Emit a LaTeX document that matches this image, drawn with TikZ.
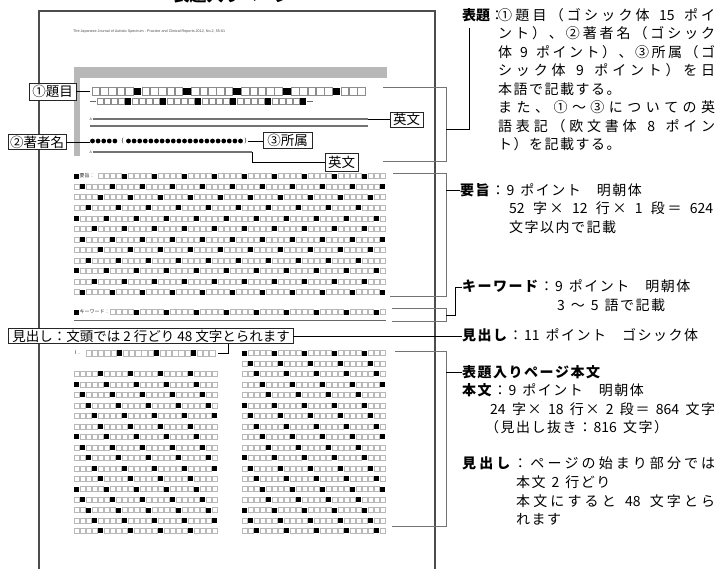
\documentclass[tikz,border=0pt]{standalone}
\usepackage{fontspec}
\setmainfont{Liberation Sans}
\newfontfamily\jp{Noto Sans CJK JP}
\newfontfamily\ls{Liberation Sans}
\makeatletter
\newcommand\spread[2]{\def\jq@glue{#1}\jq@first#2\jq@end}
\def\jq@first#1{#1\jq@next}
\def\jq@next#1{\def\jq@tmp{#1}\ifx\jq@tmp\jq@endm\else\jq@glue#1\expandafter\jq@next\fi}
\def\jq@endm{\jq@end}
\makeatother
\newcommand\jG{\hskip1.5pt\relax}
\newcommand\jJ{\hskip0pt plus1fill\relax}
\newcommand\jS{\hskip3pt\relax}
\newcommand\jW{\hskip13pt\relax}
\begin{document}
\begin{tikzpicture}[x=1pt,y=-1pt,
  pg/.style={draw=black!70, line width=1.1pt},
  lbl/.style={draw=black!85, fill=white, line width=0.8pt, inner sep=1pt, font=\jp\fontsize{13.5}{14}\selectfont},
  brk/.style={draw=black!55, line width=1pt},
  con/.style={draw=black, line width=0.8pt},
  rt/.style={anchor=base west, inner sep=0pt, font=\jp\fontsize{14}{16}\selectfont},
  sqe/.style={draw=black!28, line width=0.3pt},
  sqt/.style={draw=black!45, line width=0.4pt},
  hatch/.style={draw=black!55, line width=2.2pt},
  tiny/.style={inner sep=0pt, anchor=west, font=\jp\fontsize{5}{5}\selectfont, text=black!80},
]
\useasboundingbox (0,0) rectangle (718,568);
\clip (0,0) rectangle (718,568);
% cut-off title
\node[font=\jp\bfseries\fontsize{17}{18}\selectfont, anchor=base, inner sep=0pt] (ttl) at (232,1) {表題入りページ};
% page
\draw[pg] (39,600) -- (39,11) -- (435,11) -- (435,600);
\node[anchor=west, inner sep=0pt, font=\ls\fontsize{3.7}{4}\selectfont, text=black!70] (hdr) at (73,32) {The Japanese Journal of Autistic Spectrum : Practice and Clinical Reports 2012, No.2, 55-61};
% gray band
\fill[black!28] (74,67) rectangle (387,78);
\fill[black!28] (74,78) rectangle (80,156);
% title row 1
\foreach \i in {0,...,32}{
  \pgfmathtruncatemacro\m{mod(\i+1,6)}
  \ifnum\m=0 \fill[black] ({92+8.3*\i},87.5) rectangle ++(7.6,7.6);
  \else \draw[sqt] ({92+8.3*\i},87.5) rectangle ++(7.6,7.6); \fi
}
% title row 2
\draw[black!60, line width=0.6pt] (90,101.5) -- (96,101.5);
\foreach \i in {0,...,29}{
  \pgfmathtruncatemacro\m{mod(\i+1,5)}
  \ifnum\m=0 \fill[black] ({97+7*\i},98.4) rectangle ++(6.2,6.2);
  \else \draw[sqt] ({97+7*\i},98.4) rectangle ++(6.2,6.2); \fi
}
\draw[black!60, line width=0.6pt] (307,101.5) -- (313,101.5);
% English lines
\node[tiny, font=\ls\fontsize{3.5}{4}\selectfont] (eA1) at (89.5,119) {A};
\draw[hatch] (93,119) -- (368,119) coordinate (en1);
\draw[hatch] (90,126) -- (368,126);
\node[tiny, font=\ls\fontsize{3.5}{4}\selectfont] (eA3) at (89.5,152) {A};
\draw[hatch] (93,152) -- (252,152) coordinate (en3);
% author dots
\coordinate (au0) at (90,141);
\foreach \j in {0,...,4} \fill ({92.5+5.6*\j},141) circle (2.4);
\node[inner sep=0pt, font=\ls\fontsize{6}{6}\selectfont] (po) at (122.5,141) {(};
\foreach \j in {0,...,20} \fill ({128.5+5.6*\j},141) circle (2.4);
\node[inner sep=0pt, font=\ls\fontsize{6}{6}\selectfont] (pc) at (245.5,141) {)};
\coordinate (auend) at (247.5,141);
% abstract
\fill[black] (74,173.5) rectangle ++(5,5);
\node[tiny] (abl) at (79.5,176) {要旨：};
\foreach \k in {1,...,12}{
  \foreach \i in {0,...,51}{
    \pgfmathtruncatemacro\m{mod(\i-3+2*(\k-1)+100,5)}
    \pgfmathtruncatemacro\skipit{(\k==1)&&(\i<4)}
    \ifnum\skipit=0
      \ifnum\m=0 \fill[black] ({74+6*\i},{173.5+10.55*(\k-1)}) rectangle ++(5,5);
      \else \draw[sqe] ({74+6*\i},{173.5+10.55*(\k-1)}) rectangle ++(5,5); \fi
    \fi
  }
}
% keywords
\fill[black] (74,309.5) rectangle ++(5,5);
\node[tiny] (kwl) at (79.5,312) {キーワード：};
\foreach \i in {6,...,51}{
  \pgfmathtruncatemacro\m{mod(\i,5)}
  \ifnum\m=0 \fill[black] ({74+6*\i},309.5) rectangle ++(5,5);
  \else \draw[sqe] ({74+6*\i},309.5) rectangle ++(5,5); \fi
}
\draw[black!60, line width=1pt] (74,320) -- (386,320);
% heading row
\node[tiny, font=\ls\fontsize{5.5}{6}\selectfont] (hdI) at (75,353) {I .};
\foreach \i in {0,...,20}{
  \pgfmathtruncatemacro\m{mod(\i+1,6)}
  \ifnum\m=0 \fill[black] ({86+6.17*\i},350.4) rectangle ++(5.3,5.3);
  \else \draw[sqe] ({86+6.17*\i},350.4) rectangle ++(5.3,5.3); \fi
}
\coordinate (hdend) at (218,353);
% body left column
\foreach \r in {3,...,18}{
  \foreach \i in {0,...,23}{
    \pgfmathtruncatemacro\m{mod(\i+1-(\r-3)+100,5)}
    \ifnum\m=0 \fill[black] ({74+6*\i},{350.5+10.47*(\r-1)}) rectangle ++(5,5);
    \else \draw[sqe] ({74+6*\i},{350.5+10.47*(\r-1)}) rectangle ++(5,5); \fi
  }
}
% body right column
\foreach \r in {1,...,18}{
  \foreach \i in {0,...,23}{
    \pgfmathtruncatemacro\m{mod(\i-(\r-1)+100,5)}
    \ifnum\m=0 \fill[black] ({242+6*\i},{350.5+10.47*(\r-1)}) rectangle ++(5,5);
    \else \draw[sqe] ({242+6*\i},{350.5+10.47*(\r-1)}) rectangle ++(5,5); \fi
  }
}
% label boxes
\node[lbl, minimum width=47pt, minimum height=17pt] (b1) at (52.5,91.5) {①題目};
\node[lbl, minimum width=58pt, minimum height=15pt] (b2) at (37,142) {②著者名};
\node[lbl, minimum width=49pt, minimum height=16pt] (b3) at (287.5,140) {③所属};
\node[lbl, minimum width=33pt, minimum height=15pt] (b4) at (406.5,119.5) {英文};
\node[lbl, minimum width=33pt, minimum height=18pt] (b5) at (341.5,162) {英文};
\node[lbl, minimum width=285pt, minimum height=14pt] (b6) at (150.5,336) {\makebox[276pt][l]{\spread\jJ{見出し：文頭では{\jS}2{\jS}行どり{\jS}{48}{\jS}文字とられます}}};
% connectors of label boxes
\coordinate (r1s) at (90,91.5);
\draw[con] (b1.east) -- (r1s);
\draw[con] (en1) -- (b4.west |- en1);
\draw[con] (b2.east) -- (b2.east -| au0);
\draw[con] (auend) -- (b3.west |- auend);
\draw[con] (en3) -- (en3 |- b5.west) -- (b5.west);
\coordinate (hdk) at (228,353);
\draw[con] (hdend) -- (hdk) -- (hdk |- b6.south);
% right-hand texts
\node[rt] (r1) at (462,20) {{\bfseries 表題}：};
\node[rt] (r1b) at (498,20) {\makebox[217pt][l]{\spread\jJ{①題目（ゴシック体{\jS}{15}{\jS}ポイ}}};
\node[rt] (r2) at (498,38.5) {\makebox[217pt][l]{\spread\jJ{ント）、②著者名（ゴシック}}};
\node[rt] (r3) at (498,57) {\makebox[217pt][l]{\spread\jJ{体{\jS}9{\jS}ポイント）、③所属（ゴ}}};
\node[rt] (r4) at (498,75.5) {\makebox[217pt][l]{\spread\jJ{シック体{\jS}9{\jS}ポイント）を日}}};
\node[rt] (r5) at (498,94) {\spread\jG{本語で記載する。}};
\node[rt] (r6) at (498,112.5) {\makebox[217pt][l]{\spread\jJ{また、①～③についての英}}};
\node[rt] (r7) at (498,131) {\makebox[217pt][l]{\spread\jJ{語表記（欧文書体{\jS}8{\jS}ポイン}}};
\node[rt] (r8) at (498,149.5) {\spread\jG{ト）を記載する。}};
\node[rt] (r9) at (460,195) {{\bfseries\spread\jG{要旨}}\jG\spread\jG{：9{\jS}ポイント{\jW}明朝体}};
\node[rt] (r10) at (509,213.5) {\makebox[204pt][l]{\spread\jJ{{52}{\jS}字×{\jS}{12}{\jS}行×{\jS}1{\jS}段＝{\jS}{624}}}};
\node[rt] (r11) at (509,232) {\spread\jG{文字以内で記載}};
\node[rt] (r12) at (462,291) {{\bfseries\spread\jG{キーワード}}\jG\spread\jG{：9{\jS}ポイント{\jW}明朝体}};
\node[rt] (r13) at (557,310) {\spread\jG{3{\jS}～{\jS}5{\jS}語で記載}};
\node[rt] (r14) at (462,340) {{\bfseries\spread\jG{見出し}}\jG\spread\jG{：{11}{\jS}ポイント{\jW}ゴシック体}};
\node[rt] (r15) at (462,377) {\bfseries\spread\jG{表題入りページ本文}};
\node[rt] (r16) at (462,395.5) {{\bfseries\spread\jG{本文}}\jG\spread\jG{：9{\jS}ポイント{\jW}明朝体}};
\node[rt] (r17) at (490,414) {\makebox[225pt][l]{\spread\jJ{{24}{\jS}字×{\jS}{18}{\jS}行×{\jS}2{\jS}段＝{\jS}{864}{\jS}文字}}};
\node[rt] (r18) at (485,432.5) {\spread\jG{（見出し抜き：{816}{\jS}文字）}};
\node[rt] (r19) at (462,468) {\makebox[253pt][l]{{\bfseries\spread\jJ{見出し}}\jJ\spread\jJ{：ページの始まり部分では}}};
\node[rt] (r20) at (516,487) {\spread\jG{本文{\jS}2{\jS}行どり}};
\node[rt] (r21) at (516,506) {\makebox[199pt][l]{\spread\jJ{本文にすると{\jS}{48}{\jS}文字とら}}};
\node[rt] (r22) at (516,524.5) {\spread\jG{れます}};
% brackets
\draw[brk] (383,87) -- (446,87) -- (446,161) -- (383,161);
\coordinate (k1) at (446,129);
\coordinate (k1c) at (469,129);
\coordinate (k1t) at (469,28);
\draw[con] (k1) -- (k1c) -- (k1t);
\draw[brk] (393,173) -- (446,173) -- (446,296) -- (390,296);
\coordinate (k2) at (446,190);
\draw[con] (k2) -- (r9.west |- k2);
\draw[brk] (392,308) -- (446,308) -- (446,321) -- (392,321);
\coordinate (k3) at (446,315);
\coordinate (k3a) at (455,315);
\coordinate (k3b) at (455,287);
\draw[con] (k3) -- (k3a) -- (k3b) -- (r12.west |- k3b);
\draw[con] (b6.east) -- (r14.west |- b6.east);
\draw[brk] (395,351) -- (446,351) -- (446,526) -- (392,526);
\coordinate (k5) at (446,372);
\draw[con] (k5) -- (r15.west |- k5);
\end{tikzpicture}
\end{document}
